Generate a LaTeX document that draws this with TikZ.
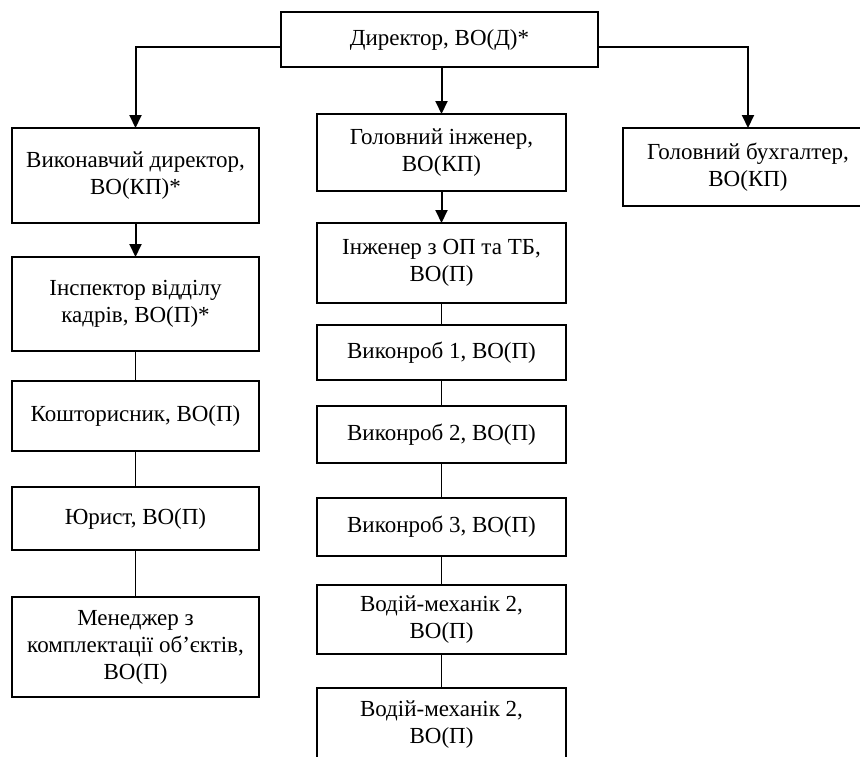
\documentclass[tikz,border=0pt]{standalone}
\usepackage{fontspec}
\setmainfont{Liberation Serif}
\usetikzlibrary{arrows.meta}

\begin{document}
\begin{tikzpicture}[x=1pt,y=-1pt,>={Triangle[length=13pt,width=12pt]},
    box/.style={draw,line width=1.8pt,align=center,inner sep=0pt,outer sep=0pt,
      font=\fontsize{23}{27}\selectfont},
    left box/.style={box,minimum width=247pt},
    mid box/.style={box,minimum width=249pt},
    arr/.style={->,line width=2pt},
    link/.style={line width=1.1pt}]

\useasboundingbox (0,0) rectangle (860,756);
\clip (0,0) rectangle (860,756);

\node[box,minimum width=317pt,minimum height=55pt] (dir) at (439.5,39.5) {Директор, ВО(Д)*};

% left column
\node[left box,minimum height=95pt] (vd) at (135.5,175.5) {Виконавчий директор,\\ВО(КП)*};
\node[left box,minimum height=94pt] (ik) at (135.5,304) {Інспектор відділу\\кадрів, ВО(П)*};
\node[left box,minimum height=70pt] (ko) at (135.5,416) {Кошторисник, ВО(П)};
\node[left box,minimum height=63pt] (yu) at (135.5,518.5) {Юрист, ВО(П)};
\node[left box,minimum height=100pt] (me) at (135.5,647) {Менеджер з\\комплектації об’єктів,\\ВО(П)};

% middle column
\node[mid box,minimum height=77pt] (gi) at (441.5,152.5) {Головний інженер,\\ВО(КП)};
\node[mid box,minimum height=80pt] (io) at (441.5,263) {Інженер з ОП та ТБ,\\ВО(П)};
\node[mid box,minimum height=55pt] (v1) at (441.5,352.5) {Виконроб 1, ВО(П)};
\node[mid box,minimum height=57pt] (v2) at (441.5,434.5) {Виконроб 2, ВО(П)};
\node[mid box,minimum height=58pt] (v3) at (441.5,527) {Виконроб 3, ВО(П)};
\node[mid box,minimum height=69pt] (vm1) at (441.5,619.5) {Водій-механік 2,\\ВО(П)};
\node[mid box,minimum height=74pt] (vm2) at (441.5,725) {Водій-механік 2,\\ВО(П)};

% right column
\node[box,minimum width=250pt,minimum height=78pt] (gb) at (748,167) {Головний бухгалтер,\\ВО(КП)};

\draw[arr] ([yshift=-7.5pt]dir.west) -| (vd.north);
\draw[arr] ([yshift=-7.5pt]dir.east) -| (gb.north);
\draw[arr] (gi.north |- dir.south) -- (gi.north);
\draw[arr] (vd.south) -- (ik.north);
\draw[arr] (gi.south) -- (io.north);

\draw[link] (ik) -- (ko) (ko) -- (yu) (yu) -- (me);
\draw[link] (io) -- (v1) (v1) -- (v2) (v2) -- (v3) (v3) -- (vm1) (vm1) -- (vm2);

\end{tikzpicture}
\end{document}
